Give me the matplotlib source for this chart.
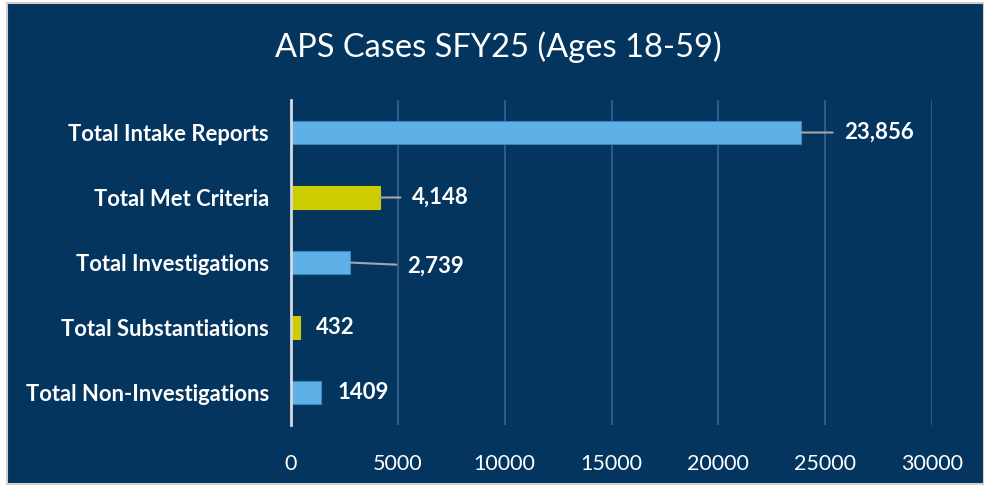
import matplotlib.pyplot as plt
from matplotlib.patches import Rectangle

categories = ["Total Intake Reports", "Total Met Criteria", "Total Investigations",
              "Total Substantiations", "Total Non-Investigations"]
values = [23856, 4148, 2739, 432, 1409]
value_labels = ["23,856", "4,148", "2,739", "432", "1409"]
bar_colors = ["#5eb1e6", "#cccc00", "#5eb1e6", "#cccc00", "#5eb1e6"]
# label offset in pixels (x, y) and whether a leader line is drawn
label_dx = [43, 32, 58, 16, 16]
label_dy = [0, 0, -4, 0, 0]
leader = [True, True, True, False, False]

navy = "#03355f"
plt.rcParams['font.family'] = ['Lato', 'DejaVu Sans']

fig = plt.figure(figsize=(9.84, 4.87), dpi=100)
fig.patch.set_facecolor("white")
bg = Rectangle((7 / 984, 3 / 487), 977 / 984, 481 / 487,
               transform=fig.transFigure, facecolor=navy,
               edgecolor="#d0d0d0", linewidth=1.5, zorder=-10)
fig.add_artist(bg)

ax = fig.add_axes([291 / 984, 1 - 425 / 487, 641 / 984, 325 / 487])
ax.set_facecolor("none")
ax.set_zorder(1)

y = list(range(len(categories)))
ax.barh(y, values, height=0.34, color=bar_colors,
        edgecolor=["#3b86c0" if c == "#5eb1e6" else c for c in bar_colors],
        linewidth=0.8, zorder=3)

ax.set_xlim(0, 30000)
ax.set_ylim(len(categories) - 0.5, -0.5)
ax.set_xticks(range(0, 30001, 5000))
ax.set_yticks(y)
ax.set_yticklabels(categories, fontsize=15.8, fontweight="bold", color="white")
ax.tick_params(axis="x", colors="white", labelsize=15.5, length=0, pad=21)
ax.tick_params(axis="y", length=0, pad=16)
ax.grid(axis="x", color="#2c5b8a", linewidth=1.5, zorder=1)
for s in ["top", "right", "bottom"]:
    ax.spines[s].set_visible(False)
ax.spines["left"].set_color("#d9d9d9")
ax.spines["left"].set_linewidth(2)
ax.spines["left"].set_zorder(4)

for i, v in enumerate(values):
    ap = dict(arrowstyle="-", color="#a6a6a6", lw=1.5, shrinkA=6, shrinkB=0) if leader[i] else None
    ax.annotate(value_labels[i], xy=(v, i), xytext=(label_dx[i], label_dy[i]),
                textcoords="offset pixels", ha="left", va="center",
                fontsize=16, fontweight="bold", color="white", arrowprops=ap)

fig.text(498.5 / 984, 1 - 47 / 487, "APS Cases SFY25 (Ages 18-59)", ha="center", va="center",
         fontsize=23.5, color="white")

fig.savefig("out.png", dpi=100, facecolor=fig.get_facecolor())
